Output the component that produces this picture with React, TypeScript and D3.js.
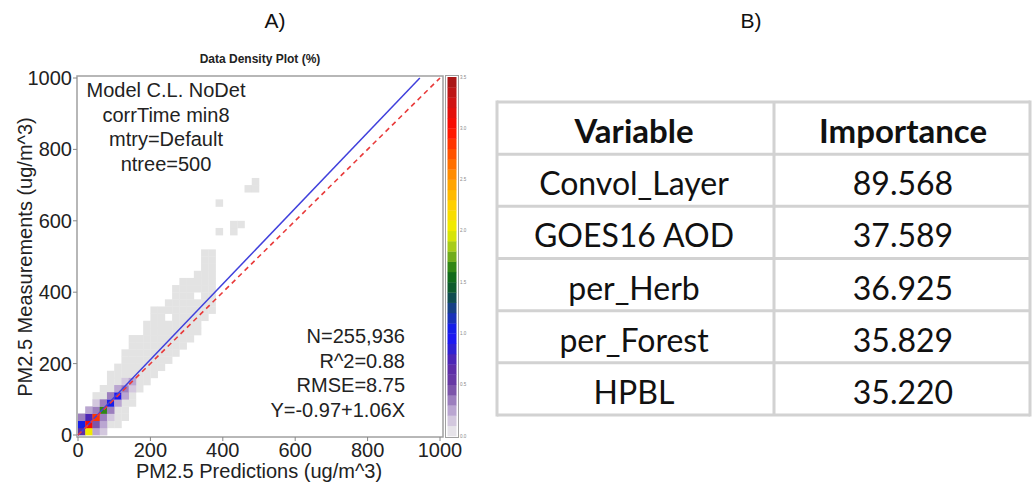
import React from "react";
import * as d3 from "d3";

// density grid: 20 ug/m^3 bins
const binSize = 20;
// grey (lowest density) band, per x column: lowest and highest y bin
const greyBottom = [0, 0, 0, 0, 1, 1, 2, 4, 6, 7, 8, 9, 10, 11, 12, 13, 14, 16, 17];
const greyTop = [2, 3, 5, 6, 8, 9, 11, 13, 13, 15, 17, 17, 18, 20, 21, 21, 22, 25, 25];
// scattered outlier cells [col, row]
const extraCells = [
  [19, 28], [19, 32], [21, 28], [21, 29], [22, 29],
  [23, 34], [24, 34], [24, 35],
];
const holeCells = [[12, 16], [16, 19]];
// denser cells near the origin [col, row, percent]
const hotCells = [
  [0, 0, 0.65], [1, 0, 2.05], [2, 0, 0.2], [3, 0, 0.12],
  [0, 1, 1.05], [1, 1, 3.05], [2, 1, 0.45], [3, 1, 0.2],
  [0, 2, 0.3], [1, 2, 0.7], [2, 2, 2.85], [3, 2, 0.35], [4, 2, 0.15],
  [1, 3, 0.25], [2, 3, 0.35], [3, 3, 1.6], [4, 3, 0.3],
  [2, 4, 0.15], [3, 4, 0.3], [4, 4, 1.02], [5, 4, 0.25],
  [4, 5, 0.3], [5, 5, 0.98], [6, 5, 0.2],
  [5, 6, 0.22], [6, 6, 0.32], [7, 6, 0.15],
  [6, 7, 0.18], [7, 7, 0.25],
];

const xTicks = [0, 200, 400, 600, 800, 1000];
const yTicks = [0, 200, 400, 600, 800, 1000];
const barTicks = [0, 0.5, 1, 1.5, 2, 2.5, 3, 3.5];

const modelLines = ["Model C.L. NoDet", "corrTime min8", "mtry=Default", "ntree=500"];
const statLines = ["N=255,936", "R^2=0.88", "RMSE=8.75", "Y=-0.97+1.06X"];
const fitIntercept = -0.97;
const fitSlope = 1.06;

const tableHeader = ["Variable", "Importance"];
const variables = ["Convol_Layer", "GOES16 AOD", "per_Herb", "per_Forest", "HPBL"];
const importance = ["89.568", "37.589", "36.925", "35.829", "35.220"];

const palette = d3
  .scaleLinear<string>()
  .domain([0, 0.1, 0.2, 0.3, 0.4, 0.5, 0.7, 0.85, 1.0, 1.2, 1.4, 1.6, 1.8, 2.0, 2.25, 2.5, 2.75, 3.0, 3.25, 3.5])
  .range([
    "#efefef", "#ddd7e3", "#c9b9d9", "#ab93c9", "#8c6bb2", "#6b3fa2", "#5a28a8", "#3020d2",
    "#1414ff", "#1a3aa0", "#0b5236", "#127212", "#8fc020", "#eef000", "#ffd000", "#ff9a00",
    "#ff5200", "#ff0a00", "#d01414", "#a01818",
  ])
  .interpolate(d3.interpolateRgb)
  .clamp(true);
const stepColor = (v: number) => palette(Math.floor(v * 10) / 10 + 0.05);

const ARIAL = "'Liberation Sans', Arial, sans-serif";
const CAL = "Lato, 'Open Sans', sans-serif";

export default function App() {
  const x = d3.scaleLinear().domain([0, 1000]).range([78, 440]);
  const y = d3.scaleLinear().domain([0, 1000]).range([435, 78]);
  const cw = x(binSize) - x(0);
  const ch = y(0) - y(binSize);

  const cells: { c: number; r: number; v: number }[] = [];
  greyBottom.forEach((b, c) => {
    for (let r = b; r <= greyTop[c]; r++) {
      if (!holeCells.some((h) => h[0] === c && h[1] === r)) cells.push({ c, r, v: 0.05 });
    }
  });
  extraCells.forEach(([c, r]) => cells.push({ c, r, v: 0.05 }));
  hotCells.forEach(([c, r, v]) => cells.push({ c, r, v }));

  const fitLine = d3
    .line<number>()
    .x((d) => x(d))
    .y((d) => y(fitIntercept + fitSlope * d));
  const xEnd = (1000 - fitIntercept) / fitSlope;

  const bar = d3.scaleLinear().domain([0, 3.5]).range([436, 77]);
  const steps = d3.range(0, 35);

  const rowH = (415 - 102) / 6;
  const tLeft = 497, tRight = 1030, tTop = 102, tMid = 774;

  return (
    <svg width={1032} height={484} style={{ position: "absolute", left: 0, top: 0, background: "#fff" }}>
      <text x={275} y={28} fontFamily={ARIAL} fontSize={21} textAnchor="middle" fill="#111">A)</text>
      <text x={751} y={28} fontFamily={ARIAL} fontSize={21} textAnchor="middle" fill="#111">B)</text>

      {/* density plot */}
      <text x={260} y={63} fontFamily={ARIAL} fontSize={12} fontWeight="bold" textAnchor="middle" fill="#222">
        Data Density Plot (%)
      </text>
      <g>
        {cells.map((d, i) => (
          <rect
            key={i}
            x={x(d.c * binSize)}
            y={y((d.r + 1) * binSize)}
            width={cw + 0.3}
            height={ch + 0.3}
            fill={d.v < 0.1 ? "#e3e3e3" : stepColor(d.v)}
          />
        ))}
      </g>
      <rect x={77} y={76} width={366} height={361} fill="none" stroke="#a0a0a0" strokeWidth={1.5} />
      <path d={fitLine([0, xEnd]) || ""} stroke="#4040dc" strokeWidth={1.5} fill="none" />
      <line x1={x(0)} y1={y(0)} x2={x(1000)} y2={y(1000)} stroke="#e83a3a" strokeWidth={1.6} strokeDasharray="5,4" />

      {yTicks.map((t) => (
        <g key={"y" + t}>
          <line x1={73} x2={77} y1={y(t)} y2={y(t)} stroke="#888" />
          <text x={72} y={y(t) + 7} fontFamily={ARIAL} fontSize={20} textAnchor="end" fill="#222">{t}</text>
        </g>
      ))}
      {xTicks.map((t) => (
        <g key={"x" + t}>
          <line x1={x(t)} x2={x(t)} y1={437} y2={441} stroke="#888" />
          <text x={x(t)} y={457} fontFamily={ARIAL} fontSize={20} textAnchor="middle" fill="#222">{t}</text>
        </g>
      ))}
      <text x={259} y={478} fontFamily={ARIAL} fontSize={20} textAnchor="middle" fill="#222">
        PM2.5 Predictions (ug/m^3)
      </text>
      <text
        transform="translate(32,257) rotate(-90)"
        fontFamily={ARIAL}
        fontSize={20}
        textAnchor="middle"
        fill="#222"
      >
        PM2.5 Measurements (ug/m^3)
      </text>

      {modelLines.map((s, i) => (
        <text key={s} x={166} y={97 + i * 24.5} fontFamily={ARIAL} fontSize={20} textAnchor="middle" fill="#222">{s}</text>
      ))}
      {statLines.map((s, i) => (
        <text key={s} x={405} y={343 + i * 24.7} fontFamily={ARIAL} fontSize={20} textAnchor="end" fill="#222">{s}</text>
      ))}

      {/* colour bar */}
      <rect x={445.5} y={75.5} width={13} height={362} fill="#fff" stroke="#a0a0a0" />
      {steps.map((k) => (
        <rect
          key={"s" + k}
          x={447.5}
          y={bar((k + 1) / 10)}
          width={9}
          height={bar(0) - bar(0.1) + 0.3}
          fill={stepColor(k / 10 + 0.01)}
        />
      ))}
      {barTicks.map((t) => (
        <text key={"b" + t} x={460} y={bar(t) + 1.5} fontFamily={ARIAL} fontSize={4.5} fill="#888">{t.toFixed(1)}</text>
      ))}

      {/* importance table */}
      <g fontFamily={CAL} fill="#111" textAnchor="middle">
        {tableHeader.map((h, i) => (
          <text key={h} x={i === 0 ? 634 : 903} y={tTop + 41} fontSize={33} fontWeight="bold">{h}</text>
        ))}
        {variables.map((v, i) => (
          <g key={v}>
            <text x={634} y={tTop + rowH * (i + 1) + 41} fontSize={32}>{v}</text>
            <text x={903} y={tTop + rowH * (i + 1) + 41} fontSize={32}>{importance[i]}</text>
          </g>
        ))}
      </g>
      <g stroke="#d2d2d2" strokeWidth={3}>
        {d3.range(0, 7).map((i) => (
          <line key={"h" + i} x1={tLeft} x2={tRight} y1={tTop + rowH * i} y2={tTop + rowH * i} />
        ))}
        <line x1={tLeft} x2={tLeft} y1={tTop - 1.5} y2={tTop + rowH * 6 + 1.5} />
        <line x1={tMid} x2={tMid} y1={tTop} y2={tTop + rowH * 6} />
        <line x1={tRight} x2={tRight} y1={tTop - 1.5} y2={tTop + rowH * 6 + 1.5} />
      </g>
    </svg>
  );
}
